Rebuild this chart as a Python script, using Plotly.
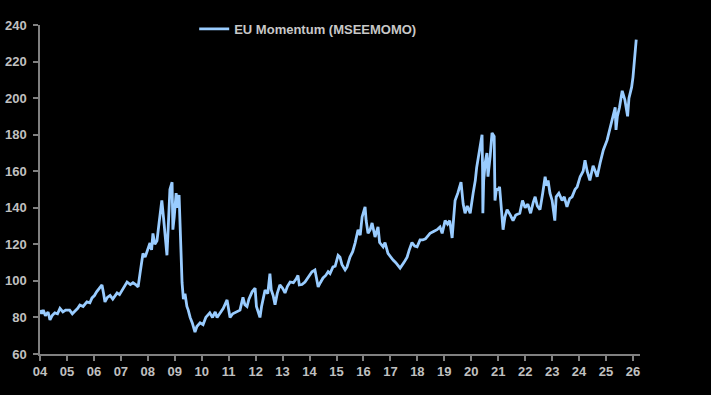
import plotly.graph_objects as go

dates = [
2004.00,2004.06,2004.12,2004.2,2004.3,2004.37,2004.45,2004.55,2004.65,2004.74,2004.85,2004.95,
2005.1,2005.2,2005.3,2005.4,2005.48,2005.6,2005.74,2005.85,2005.93,
2006.02,2006.1,2006.2,2006.3,2006.36,2006.41,2006.5,2006.6,2006.7,2006.86,2006.95,
2007.04,2007.12,2007.23,2007.35,2007.45,2007.55,2007.64,2007.71,2007.76,2007.82,2007.9,
2008.0,2008.08,2008.14,2008.19,2008.26,2008.34,2008.42,2008.48,2008.52,2008.58,2008.64,2008.71,2008.76,2008.82,2008.9,2008.93,2008.98,
2009.05,2009.1,2009.16,2009.2,2009.24,2009.27,2009.32,2009.38,2009.45,2009.5,2009.57,2009.65,2009.75,2009.82,2009.94,
2010.05,2010.15,2010.3,2010.4,2010.5,2010.57,2010.68,2010.8,2010.94,
2011.05,2011.15,2011.31,2011.42,2011.53,2011.6,2011.68,2011.75,2011.87,2011.98,
2012.03,2012.1,2012.16,2012.22,2012.35,2012.45,2012.53,2012.58,2012.65,2012.72,2012.8,2012.9,
2013.0,2013.09,2013.18,2013.28,2013.4,2013.5,2013.57,2013.62,2013.72,2013.83,2013.95,
2014.09,2014.2,2014.26,2014.32,2014.4,2014.5,2014.6,2014.69,2014.76,2014.87,2014.95,
2015.06,2015.13,2015.2,2015.32,2015.39,2015.5,2015.6,2015.69,2015.8,2015.88,2015.95,
2016.06,2016.1,2016.17,2016.25,2016.32,2016.43,2016.54,2016.6,2016.73,2016.8,2016.91,
2017.0,2017.1,2017.2,2017.36,2017.5,2017.62,2017.7,2017.8,2017.9,2017.99,
2018.1,2018.2,2018.3,2018.4,2018.47,2018.6,2018.73,2018.84,2018.92,
2019.03,2019.12,2019.2,2019.29,2019.35,2019.4,2019.5,2019.62,2019.7,2019.77,2019.85,2019.96,
2020.07,2020.15,2020.2,2020.3,2020.4,2020.42,2020.43,2020.46,2020.52,2020.58,2020.62,2020.7,2020.77,2020.85,2020.88,2020.93,
2021.0,2021.05,2021.12,2021.18,2021.25,2021.33,2021.45,2021.55,2021.65,2021.8,2021.9,
2022.0,2022.1,2022.2,2022.3,2022.37,2022.45,2022.55,2022.65,2022.74,2022.8,2022.85,2022.92,
2023.0,2023.1,2023.15,2023.25,2023.37,2023.45,2023.55,2023.65,2023.74,2023.85,2023.93,
2024.04,2024.15,2024.22,2024.3,2024.4,2024.52,2024.6,2024.67,2024.78,2024.9,
2025.04,2025.15,2025.25,2025.34,2025.37,2025.42,2025.5,2025.6,2025.7,2025.8,2025.85,2025.9,2025.95,
2026.0,2026.06,2026.12,
]

values = [
84,82,84,81,83,78.6,81,82.5,82,85,83,84,
84,82,83.5,85,86.8,86,88.5,88,90.7,
92,94,96,97.8,93,88.5,91,92,90,93.4,92.5,
95,97,99.4,98,99,98,96.7,104,110,115,113,
118,120.7,117,126,120,122,132,138,144,135,124,114,130,150,154,128,135,
148,140,147,129.5,110,99,90,93,86,84,80,77,72,75,77,
76,80,82.5,80,83,80,82.5,85,89.6,
80,82,83,84,91,87,86,90,94,96,
86,82,80,86,95,93,104,95,92,87,93,97.8,
96,93.4,97,99.4,99,101,103,97.8,98,99.4,102,
105,106,101,96.7,99,101.6,103,105,104,107.6,108,
114,113,109,106,107.6,113,116,120.7,128,125,135,
140.5,133,126,128,131.7,124,129.5,121,118.6,121,115,
113,111.4,110,107,110,113,117,121,119,118.6,
122.4,122.4,123,125,126,127,128,129.5,126,
133,131,133,123.5,135,144,148,154,142,137,141,137,
148,155,162,172,180,160,137,155,165,170,157,168,181,179,144,150,
150,151.5,140,128,135,139,136,133,136,137,144,
140,142,137,143,146,141,139,148,157,152,155,148,
144,133,146,148,144,146,140.5,145,146,150,151.5,
157,160,166,160,155,163,160,157,164.5,171.6,
177,184,190,195,182.6,190,195,204,199,190,200,203,206,
211.5,221,232,
]

tick_years = list(range(2004, 2027))
tick_labels = ["%02d" % (y % 100) for y in tick_years]
y_ticks = list(range(60, 241, 20))

series_name = "EU Momentum (MSEEMOMO)"

fig = go.Figure()
fig.add_trace(go.Scatter(
    x=dates, y=values, mode="lines", name=series_name,
    line=dict(color="#99ccff", width=2.8),
    showlegend=True,
))

tick_font = dict(family="Liberation Sans, Arial, sans-serif", size=13, color="#c0c0c0", weight="bold")

fig.update_layout(
    width=711, height=395,
    paper_bgcolor="black", plot_bgcolor="black",
    margin=dict(l=40, r=71, t=25, b=41, autoexpand=False),
    showlegend=True,
    legend=dict(
        orientation="h", x=0.257, xanchor="left", y=0.988, yanchor="middle",
        bgcolor="rgba(0,0,0,0)", borderwidth=0,
        font=dict(family="Liberation Sans, Arial, sans-serif", size=13, color="#c8c8c8", weight="bold"),
        itemwidth=30,
    ),
    xaxis=dict(
        range=[2004, 2026.26], tickmode="array", tickvals=tick_years, ticktext=tick_labels,
        showgrid=False, zeroline=False, showline=True, linecolor="#808080", linewidth=1.5,
        ticks="outside", ticklen=5, tickcolor="#808080", tickwidth=1.5,
        tickfont=tick_font, automargin=False,
    ),
    yaxis=dict(
        range=[60, 240], tickmode="array", tickvals=y_ticks,
        showgrid=False, zeroline=False, showline=True, linecolor="#808080", linewidth=1.5,
        ticks="outside", ticklen=5, tickcolor="#808080", tickwidth=1.5,
        tickfont=tick_font, automargin=False, ticklabelstandoff=4,
    ),
)

fig.write_html(
    "out.html",
    config={"displayModeBar": False},
    post_script="document.body.style.margin='0';document.body.style.background='black';document.body.style.overflow='hidden';",
)
